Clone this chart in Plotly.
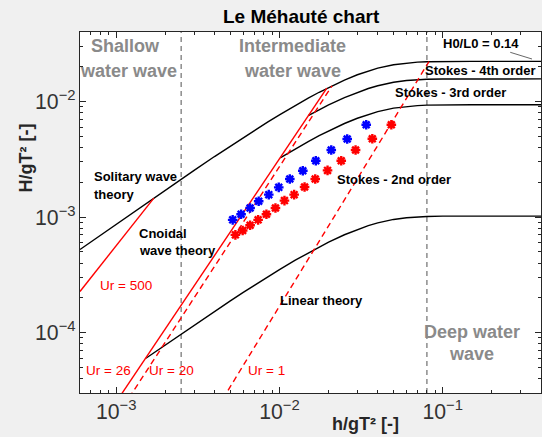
import plotly.graph_objects as go
import math

# ---------------- data ----------------
# regime boundaries h/gT^2
regime_bounds = [0.0025, 0.08]

# breaking limit H0/L0 = 0.14
breaking_x = [6e-4, 8e-4, 1e-3, 1.5e-3, 2e-3, 3e-3, 4e-3, 5e-3, 6e-3, 7e-3, 8.5e-3, 0.01,
              0.0125, 0.015, 0.0175, 0.02, 0.025, 0.03, 0.035, 0.04, 0.05, 0.06, 0.07,
              0.08, 0.1, 0.15, 0.2, 0.4]
breaking_H = [5.24e-4, 6.96e-4, 8.68e-4, 1.294e-3, 1.712e-3, 2.535e-3, 3.342e-3, 4.113e-3,
              4.868e-3, 5.603e-3, 6.662e-3, 7.671e-3, 9.253e-3, 0.010706, 0.012036, 0.013259,
              0.015351, 0.017051, 0.018399, 0.019448, 0.020838, 0.021565, 0.021944, 0.022124,
              0.022247, 0.02228, 0.02228, 0.02228]

# Stokes 3rd / 4th order boundary
stokes34_x = [0.015, 0.0175, 0.02, 0.025, 0.03, 0.035, 0.04, 0.05, 0.06, 0.07, 0.08, 0.1, 0.15, 0.4]
stokes34_H = [7.544e-3, 8.481e-3, 9.343e-3, 0.010817, 0.012015, 0.012965, 0.013705, 0.014684,
              0.015196, 0.015463, 0.01559, 0.015676, 0.0157, 0.0157]

# Stokes 2nd / 3rd order boundary
stokes23_x = [0.0101, 0.0125, 0.015, 0.0175, 0.02, 0.025, 0.03, 0.035, 0.04, 0.05, 0.06, 0.07,
              0.08, 0.1, 0.15, 0.4]
stokes23_H = [3.256e-3, 3.891e-3, 4.502e-3, 5.062e-3, 5.576e-3, 6.456e-3, 7.171e-3, 7.738e-3,
              8.179e-3, 8.764e-3, 9.069e-3, 9.229e-3, 9.304e-3, 9.356e-3, 9.37e-3, 9.37e-3]

# linear / Stokes 2nd order boundary
linear_x = [1.52e-3, 2e-3, 3e-3, 4e-3, 5e-3, 6e-3, 7e-3, 8.5e-3, 0.01, 0.0125, 0.015, 0.0175,
            0.02, 0.025, 0.03, 0.035, 0.04, 0.05, 0.06, 0.07, 0.08, 0.1, 0.15, 0.4]
linear_H = [6.0e-5, 7.84e-5, 1.161e-4, 1.53e-4, 1.883e-4, 2.229e-4, 2.565e-4, 3.05e-4, 3.512e-4,
            4.236e-4, 4.901e-4, 5.51e-4, 6.07e-4, 7.028e-4, 7.806e-4, 8.423e-4, 8.904e-4,
            9.54e-4, 9.873e-4, 1.0046e-3, 1.0129e-3, 1.0185e-3, 1.02e-3, 1.02e-3]

# Ursell number lines
ur500_x = [6e-4, 1.7e-3]
ur500_H = [2.27e-4, 1.46e-3]
ur26_x = [1.05e-3, 0.0195]
ur26_H = [2.78e-5, 0.01305]
ur20_x = [1.2e-3, 0.021]
ur20_H = [2.73e-5, 0.0137]
ur1_x = [4.5e-3, 0.0824]
ur1_H = [2.67e-5, 0.0222]

# measured points
blue_x = [5.17e-3, 5.82e-3, 6.61e-3, 7.46e-3, 8.60e-3, 9.90e-3, 0.01157, 0.0139, 0.0167,
          0.02076, 0.026, 0.034]
blue_H = [9.46e-4, 1.057e-3, 1.20e-3, 1.369e-3, 1.564e-3, 1.808e-3, 2.137e-3, 2.521e-3,
          3.075e-3, 3.804e-3, 4.735e-3, 6.29e-3]
red_x = [5.37e-3, 5.95e-3, 6.61e-3, 7.40e-3, 8.32e-3, 9.45e-3, 0.01073, 0.0123, 0.01425,
         0.01656, 0.0197, 0.0239, 0.02926, 0.03705, 0.04845]
red_H = [7.02e-4, 7.65e-4, 8.50e-4, 9.46e-4, 1.057e-3, 1.20e-3, 1.388e-3, 1.564e-3, 1.823e-3,
         2.137e-3, 2.535e-3, 3.075e-3, 3.804e-3, 4.76e-3, 6.29e-3]

x_range = [6e-4, 0.4]
y_range = [3e-5, 0.04]

# ---------------- figure ----------------
FONT = "Liberation Sans, Arial, Helvetica, sans-serif"
W, H = 542, 437
ML, MR, MT, MB = 80, 1, 32, 44
PW, PH = W - ML - MR, H - MT - MB

fig = go.Figure()

for xb in regime_bounds:
    fig.add_trace(go.Scatter(x=[xb, xb], y=y_range, mode="lines",
                             line=dict(color="#8c8c8c", width=1.5, dash="5px,4px"),
                             hoverinfo="skip", showlegend=False))

def black(x, y):
    fig.add_trace(go.Scatter(x=x, y=y, mode="lines", line=dict(color="black", width=1.4),
                             showlegend=False))

black(breaking_x, breaking_H)
black(stokes34_x, stokes34_H)
black(stokes23_x, stokes23_H)
black(linear_x, linear_H)

def red(x, y, dash):
    fig.add_trace(go.Scatter(x=x, y=y, mode="lines",
                             line=dict(color="#ff0000", width=1.4, dash=dash),
                             showlegend=False))

red(ur500_x, ur500_H, "solid")
red(ur26_x, ur26_H, "solid")
red(ur20_x, ur20_H, "6px,4px")
red(ur1_x, ur1_H, "6px,4px")

fig.add_trace(go.Scatter(x=blue_x, y=blue_H, mode="markers",
                         marker=dict(symbol="asterisk-open", size=8, color="#0000ff",
                                     line=dict(color="#0000ff", width=2.4)),
                         showlegend=False))
fig.add_trace(go.Scatter(x=red_x, y=red_H, mode="markers",
                         marker=dict(symbol="asterisk-open", size=8, color="#ff0000",
                                     line=dict(color="#ff0000", width=2.4)),
                         showlegend=False))

def pxx(p):
    return (p - ML) / PW

def pyy(p):
    return (H - MB - p) / PH

ann = []

def label(text, xp, yp, size=13.5, color="black", bold=True, anchor="center", angle=0):
    ann.append(dict(text=text, x=pxx(xp), y=pyy(yp), xref="paper", yref="paper",
                    showarrow=False, xanchor=anchor, yanchor="middle", textangle=angle,
                    font=dict(family=FONT, size=size, color=color,
                              weight="bold" if bold else "normal")))

GRAY = "#8a8a8a"
label("Shallow", 125, 45.7, 18, GRAY)
label("water wave", 128, 70.7, 18, GRAY)
label("Intermediate", 292, 45.7, 18, GRAY)
label("water wave", 292.5, 70.7, 18, GRAY)
label("Deep water", 472, 331.7, 18, GRAY)
label("wave", 471.5, 354, 18, GRAY)

label("Stokes - 4th order", 480, 70.7, 13)
label("Stokes - 3rd order", 450.5, 92.7, 13)
label("Stokes - 2nd order", 393.5, 179, 13)
label("Solitary wave", 92, 176.7, 13, anchor="left")
label("theory", 92, 194.3, 13, anchor="left")
label("Cnoidal", 137, 233.3, 13, anchor="left")
label("wave theory", 137, 250.7, 13, anchor="left")
label("Linear theory", 321.7, 300, 13)

label("Ur = 500", 98, 285, color="#ff0000", bold=False, anchor="left")
label("Ur = 26", 84, 370, color="#ff0000", bold=False, anchor="left")
label("Ur = 20", 147, 370, color="#ff0000", bold=False, anchor="left")
label("Ur = 1", 246, 370, color="#ff0000", bold=False, anchor="left")

label("Le Méhauté chart", 301, 17, 19, "black")
label("h/gT² [-]", 365, 424, 18, "#262626")
label("H/gT² [-]", 25, 158.5, 18, "#262626", angle=-90)

# H0/L0 annotation with leader line
ann.append(dict(text="H0/L0 = 0.14", x=pxx(532), y=pyy(59), xref="paper", yref="paper",
                ax=-51, ay=-15.7, showarrow=True, arrowhead=0, arrowwidth=0.8,
                arrowcolor="#404040", standoff=0,
                font=dict(family=FONT, size=13, color="black", weight="bold")))

axis_common = dict(type="log", showline=True, linecolor="#262626", linewidth=1,
                   mirror="ticks", ticks="inside", ticklen=6, tickcolor="#262626",
                   showgrid=False, zeroline=False, dtick=1, exponentformat="power",
                   showexponent="all",
                   tickfont=dict(family=FONT, size=17, color="#333333"),
                   minor=dict(ticks="inside", ticklen=3, tickcolor="#262626", showgrid=False))

fig.update_xaxes(**axis_common, range=[math.log10(x_range[0]), math.log10(x_range[1])])
fig.update_yaxes(**axis_common, range=[math.log10(y_range[0]), math.log10(y_range[1])])

fig.update_layout(width=W, height=H, margin=dict(l=ML, r=MR, t=MT, b=MB),
                  paper_bgcolor="#f0f0f0", plot_bgcolor="white",
                  annotations=ann, showlegend=False,
                  font=dict(family=FONT))

fig.write_html("out.html", config={"displayModeBar": False},
               post_script="document.body.style.margin='0';document.body.style.overflow='hidden';")
